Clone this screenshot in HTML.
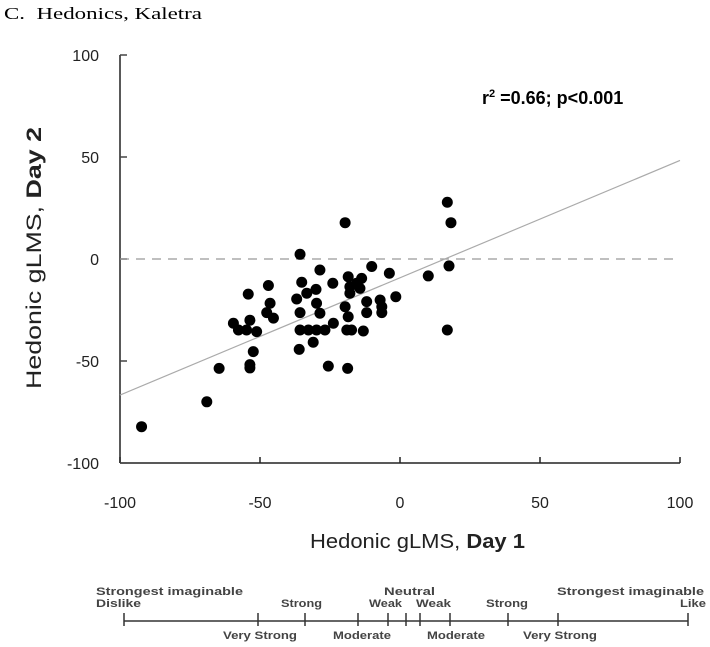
<!DOCTYPE html>
<html><head><meta charset="utf-8"><style>
body{margin:0;background:#fff;}
svg{display:block;}
</style></head><body>
<svg id="chart" width="710" height="647" xmlns="http://www.w3.org/2000/svg">
<text x="4" y="19" font-family="Liberation Serif, serif" font-size="17" fill="#000" textLength="198" lengthAdjust="spacingAndGlyphs">C.&#160;&#160;Hedonics, Kaletra</text>
<g id="axes"></g>
<g id="marks"></g>
<text x="482" y="104" font-family="Liberation Sans, sans-serif" font-size="18" font-weight="bold" fill="#000">r<tspan font-size="11" dy="-7">2</tspan><tspan dy="7"> =0.66; p&lt;0.001</tspan></text>
<text x="310" y="548" font-family="Liberation Sans, sans-serif" font-size="20" fill="#222" textLength="215" lengthAdjust="spacingAndGlyphs">Hedonic gLMS, <tspan font-weight="bold">Day 1</tspan></text>
<text transform="translate(41,258) rotate(-90)" text-anchor="middle" font-family="Liberation Sans, sans-serif" font-size="21" fill="#222" textLength="262" lengthAdjust="spacingAndGlyphs">Hedonic gLMS, <tspan font-weight="bold">Day 2</tspan></text>
<g id="scale" font-family="Liberation Sans, sans-serif" font-size="11" font-weight="bold" fill="#444">
<line x1="124" y1="621" x2="688" y2="621" stroke="#333" stroke-width="1.5"/>
<text x="96" y="595" textLength="147" lengthAdjust="spacingAndGlyphs">Strongest imaginable</text>
<text x="96" y="607" textLength="45" lengthAdjust="spacingAndGlyphs">Dislike</text>
<text x="281" y="607" textLength="41" lengthAdjust="spacingAndGlyphs">Strong</text>
<text x="369" y="607" textLength="33" lengthAdjust="spacingAndGlyphs">Weak</text>
<text x="384" y="595" textLength="51" lengthAdjust="spacingAndGlyphs">Neutral</text>
<text x="416" y="607" textLength="35" lengthAdjust="spacingAndGlyphs">Weak</text>
<text x="486" y="607" textLength="42" lengthAdjust="spacingAndGlyphs">Strong</text>
<text x="557" y="595" textLength="147" lengthAdjust="spacingAndGlyphs">Strongest imaginable</text>
<text x="680" y="607" textLength="26" lengthAdjust="spacingAndGlyphs">Like</text>
<text x="223" y="639" textLength="74" lengthAdjust="spacingAndGlyphs">Very Strong</text>
<text x="333" y="639" textLength="58" lengthAdjust="spacingAndGlyphs">Moderate</text>
<text x="427" y="639" textLength="58" lengthAdjust="spacingAndGlyphs">Moderate</text>
<text x="523" y="639" textLength="74" lengthAdjust="spacingAndGlyphs">Very Strong</text>
</g>
</svg>
<script>
const xTicks=[-100,-50,0,50,100];
const yTicks=[100,50,0,-50,-100];
const day1=[-92.3,-69,-64.6,-53.6,-53.6,-52.4,-59.5,-57.7,-54.8,-53.6,-51.2,-54.2,-47,-46.4,-47.6,-45.2,-35.7,-35.1,-36.9,-33.3,-30,-29.8,-28.6,-35.7,-35.7,-32.7,-29.8,-26.8,-23.8,-31,-36,-28.6,-24,-19.6,-25.6,-18.7,-18.5,-17.9,-17.9,-15.5,-13.7,-14.3,-19.6,-18.5,-19,-17.3,-13.1,-11.9,-11.9,-7.1,-6.5,-6.5,-10.1,-3.8,-1.5,10.1,16.9,18.2,17.5,16.9];
const day2=[-82.2,-70,-53.6,-53.4,-51.8,-45.4,-31.5,-34.8,-34.8,-30,-35.6,-17.2,-13,-21.7,-26.3,-29,2.3,-11.4,-19.6,-16.8,-14.9,-21.7,-26.6,-26.3,-34.8,-34.8,-34.8,-34.8,-31.5,-40.8,-44.3,-5.4,-11.9,17.8,-52.5,-53.6,-8.7,-13.6,-16.8,-11.9,-9.5,-14.4,-23.4,-28.3,-34.8,-34.8,-35.3,-20.9,-26.3,-20.1,-23.4,-26.3,-3.7,-7,-18.5,-8.3,27.8,17.8,-3.4,-34.8];
const fitIntercept=[-9.2];
const fitSlope=[0.575];
const NS='http://www.w3.org/2000/svg';
function sx(v){return 400+v*2.8;}
function sy(v){return 259-v*2.04;}
function mk(t,a,p){const e=document.createElementNS(NS,t);for(const k in a)e.setAttribute(k,a[k]);p.appendChild(e);return e;}
const ax=document.getElementById('axes'),mg=document.getElementById('marks');
let l=mk('line',{x1:120,y1:sy(100),x2:120,y2:sy(-100),stroke:'#222','stroke-width':1.5},ax);


l=mk('line',{x1:120,y1:sy(-100),x2:sx(100),y2:sy(-100),stroke:'#222','stroke-width':1.5},ax);


xTicks.forEach(v=>{
 const t=mk('line',{x1:sx(v),y1:sy(-100),x2:sx(v),y2:sy(-100)-6,stroke:'#222','stroke-width':1.5},ax);
 
 
 const tx=mk('text',{x:sx(v),y:508,'text-anchor':'middle','font-family':'Liberation Sans, sans-serif','font-size':16,fill:'#222'},ax);
 tx.textContent=v;
 
 
});
yTicks.forEach(v=>{
 const t=mk('line',{x1:120,y1:sy(v),x2:127,y2:sy(v),stroke:'#444','stroke-width':1.5},ax);
 
 
 const tx=mk('text',{x:99,y:sy(v)+6,'text-anchor':'end','font-family':'Liberation Sans, sans-serif','font-size':16,fill:'#222'},ax);
 tx.textContent=v;
 
 
});
l=mk('line',{x1:120,y1:sy(0),x2:sx(100),y2:sy(0),stroke:'#999','stroke-width':1.2,'stroke-dasharray':'9,7'},ax);


l=mk('line',{x1:sx(-100),y1:sy(fitIntercept[0]+fitSlope[0]*-100),x2:sx(100),y2:sy(fitIntercept[0]+fitSlope[0]*100),stroke:'#aaa','stroke-width':1.2},ax);


day1.forEach((v,i)=>{
 const c=mk('circle',{cx:sx(v),cy:sy(day2[i]),r:5.5,fill:'#000'},mg);
 
 
});
const sc=document.getElementById('scale');
[124,258,305,358,388,406,420,450,508,558,688].forEach(x=>{
 const t=mk('line',{x1:x,y1:613,x2:x,y2:626,stroke:'#333','stroke-width':1.5},sc);
 
 
});
</script>
</body></html>
